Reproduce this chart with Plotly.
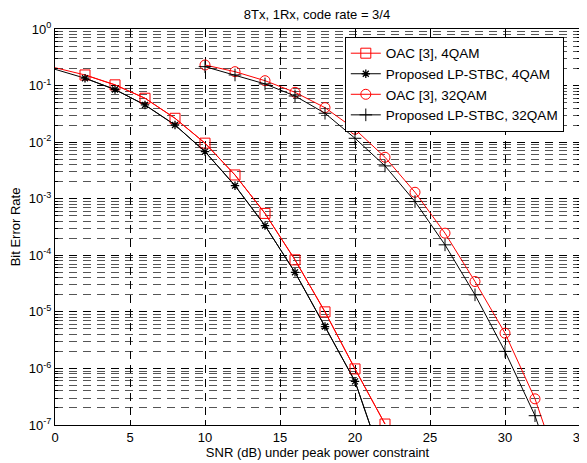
import plotly.graph_objects as go

# ---- data ----
snr_4qam = [0, 2, 4, 6, 8, 10, 12, 14, 16, 18, 20, 22]
ber_oac_4qam = [0.207, 0.154, 0.103, 0.0597, 0.0264, 0.0096, 0.00263, 5.5e-4, 8.3e-5, 1.0e-5, 9.8e-7, 1.04e-7]
ber_prop_4qam = [0.194, 0.135, 0.085, 0.0454, 0.0201, 0.0068, 0.0017, 3.35e-4, 5.0e-5, 5.5e-6, 5.9e-7, 1.7e-8]

snr_32qam = [10, 12, 14, 16, 18, 20, 22, 24, 26, 28, 30, 32, 34]
ber_oac_32qam = [0.231, 0.176, 0.122, 0.076, 0.0407, 0.0169, 0.0054, 1.3e-3, 2.46e-4, 3.44e-5, 4.2e-6, 2.9e-7, 8.3e-9]
ber_prop_32qam = [0.216, 0.154, 0.107, 0.0655, 0.0324, 0.0117, 0.0038, 8.9e-4, 1.53e-4, 2.0e-5, 2.0e-6, 1.46e-7, 4.0e-9]

x_ticks = [0, 5, 10, 15, 20, 25, 30, 35]
y_tickvals = [1e-7, 1e-6, 1e-5, 1e-4, 1e-3, 1e-2, 1e-1, 1]
y_ticktext = ["10<sup>-7</sup>", "10<sup>-6</sup>", "10<sup>-5</sup>", "10<sup>-4</sup>",
              "10<sup>-3</sup>", "10<sup>-2</sup>", "10<sup>-1</sup>", "10<sup>0</sup>"]

title_text = "8Tx, 1Rx, code rate = 3/4"
names = ["OAC [3], 4QAM", "Proposed LP-STBC, 4QAM", "OAC [3], 32QAM", "Proposed LP-STBC, 32QAM"]

RED = "#ff0000"
BLK = "#000000"
FONT = "Liberation Sans, Arial, sans-serif"

fig = go.Figure()

# line-only segments for the 4QAM curves (first point has no marker)
fig.add_trace(go.Scatter(x=snr_4qam, y=ber_oac_4qam, mode="lines",
                         line=dict(color=RED, width=1), showlegend=False, hoverinfo="skip"))
fig.add_trace(go.Scatter(x=snr_4qam, y=ber_prop_4qam, mode="lines",
                         line=dict(color=BLK, width=1), showlegend=False, hoverinfo="skip"))

fig.add_trace(go.Scatter(x=snr_4qam[1:], y=ber_oac_4qam[1:], mode="lines+markers", name=names[0],
                         line=dict(color=RED, width=1),
                         marker=dict(symbol="square-open", size=10, color=RED, line=dict(width=1, color=RED))))
fig.add_trace(go.Scatter(x=snr_4qam[1:], y=ber_prop_4qam[1:], mode="lines+markers", name=names[1],
                         line=dict(color=BLK, width=1),
                         marker=dict(symbol="asterisk-open", size=7, color=BLK, line=dict(width=1.3, color=BLK))))
fig.add_trace(go.Scatter(x=snr_32qam, y=ber_oac_32qam, mode="lines+markers", name=names[2],
                         line=dict(color=RED, width=1),
                         marker=dict(symbol="circle-open", size=10, color=RED, line=dict(width=1, color=RED))))
fig.add_trace(go.Scatter(x=snr_32qam, y=ber_prop_32qam, mode="lines+markers", name=names[3],
                         line=dict(color=BLK, width=1),
                         marker=dict(symbol="cross-thin-open", size=9, color=BLK, line=dict(width=1, color=BLK))))

# the page body adds an 8px offset, so the figure is sized/margined to compensate
fig.update_layout(
    width=579, height=455,
    margin=dict(l=47, r=7, t=21, b=38, autoexpand=False),
    paper_bgcolor="white", plot_bgcolor="white",
    font=dict(family=FONT, size=13, color="black"),
    title=dict(text=title_text, x=0.5337, xanchor="center", y=0.986, yanchor="middle",
               font=dict(size=13, family=FONT, color="black")),
    legend=dict(x=0.552, y=0.98, xanchor="left", yanchor="top",
                bgcolor="white", bordercolor="black", borderwidth=1,
                font=dict(size=13.5, family=FONT), tracegroupgap=0),
    showlegend=True,
)

fig.update_xaxes(
    range=[0, 35], tickvals=x_ticks, ticktext=[str(v) for v in x_ticks],
    automargin=False, ticklabeloverflow="allow",
    showline=True, linecolor="black", linewidth=1, mirror="ticks",
    ticks="inside", ticklen=5, tickcolor="black",
    showgrid=True, gridcolor="black", gridwidth=1, griddash="8px,6px",
    zeroline=False,
    title=dict(text="SNR (dB) under peak power constraint", standoff=2, font=dict(size=13)),
)

fig.update_yaxes(
    type="log", range=[-7, 0], tickvals=y_tickvals, ticktext=y_ticktext,
    automargin=False, ticklabeloverflow="allow",
    showline=True, linecolor="black", linewidth=1, mirror="ticks",
    ticks="inside", ticklen=5, tickcolor="black",
    showgrid=True, gridcolor="black", gridwidth=1, griddash="8px,6px",
    minor=dict(dtick="D1", showgrid=True, gridcolor="#555555", griddash="8px,6px",
               ticks="inside", ticklen=3, tickcolor="black"),
    zeroline=False,
    title=dict(text="Bit Error Rate", standoff=6, font=dict(size=13)),
)

fig.write_html("out.html")
